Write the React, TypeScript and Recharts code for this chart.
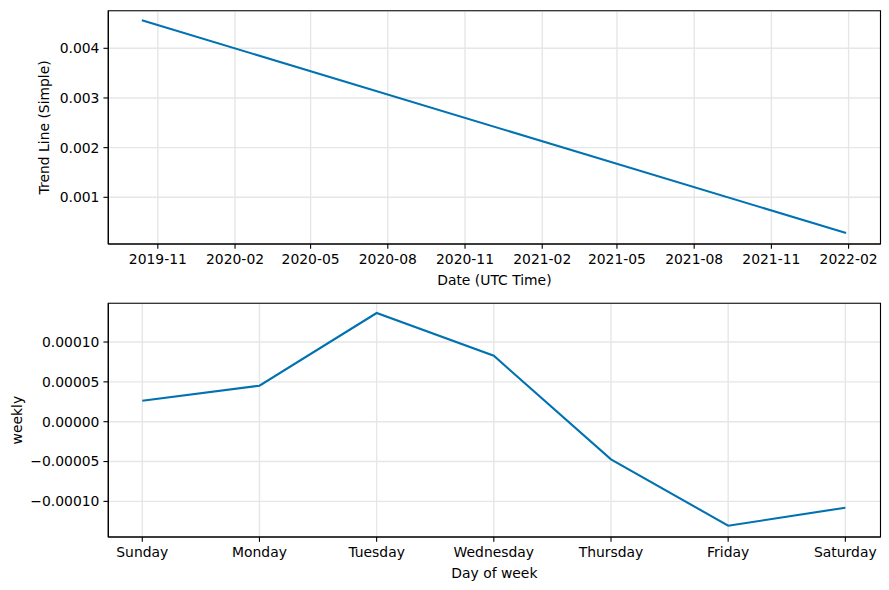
import React from 'react';
import { LineChart, Line, XAxis, YAxis, CartesianGrid, ReferenceArea, Label } from 'recharts';

const trendDates = ['2019-10-13', '2022-01-29'];
const trendValues = [0.004564, 0.000281];
const dateTicks = ['2019-11-01', '2020-02-01', '2020-05-01', '2020-08-01', '2020-11-01', '2021-02-01', '2021-05-01', '2021-08-01', '2021-11-01', '2022-02-01'];
const trendYTicks = [0.001, 0.002, 0.003, 0.004];

const days = ['Sunday', 'Monday', 'Tuesday', 'Wednesday', 'Thursday', 'Friday', 'Saturday'];
const weeklyValues = [0.0000263, 0.0000452, 0.0001364, 0.0000828, -0.0000472, -0.0001305, -0.0001079];
const weeklyYTicks = [-0.0001, -0.00005, 0, 0.00005, 0.0001];

const ts = (s: string) => Date.parse(s + 'T00:00:00Z');

const trendData = trendDates.map((d, i) => ({ t: ts(d), v: trendValues[i] }));
const weeklyData = days.map((d, i) => ({ i, v: weeklyValues[i] }));

const xDomainTop: [number, number] = [ts('2019-09-03'), ts('2022-03-11')];
const yDomainTop: [number, number] = [0.00006, 0.004757];
const xDomainBot: [number, number] = [-0.29, 6.3];
const yDomainBot: [number, number] = [-0.0001447, 0.0001486];

const FONT = 'DejaVu Sans';
const FS = 13.9;
const tickStyle = { fill: '#000', fontSize: FS, fontFamily: FONT };
const lineStyle = { stroke: '#000', strokeWidth: 1.1 };
const COLOR = '#0072B2';

const fmtDate = (t: number) => {
  const d = new Date(t);
  const m = d.getUTCMonth() + 1;
  return `${d.getUTCFullYear()}-${m < 10 ? '0' + m : m}`;
};
const fmtNum = (digits: number) => (v: number) => {
  const s = Math.abs(v).toFixed(digits);
  return v < -1e-12 ? '\u2212' + s : s;
};

const xLabel = (text: string) => (props: any) => {
  const vb = props.viewBox || {};
  return (
    <text x={vb.x + vb.width / 2} y={vb.y + 40.5} textAnchor="middle" fill="#000" fontSize={FS} fontFamily={FONT}>
      {text}
    </text>
  );
};
const yLabel = (text: string, bx: number) => (props: any) => {
  const vb = props.viewBox || {};
  const cy = vb.y + vb.height / 2;
  return (
    <text x={bx} y={cy} textAnchor="middle" fill="#000" fontSize={FS} fontFamily={FONT} transform={`rotate(-90, ${bx}, ${cy})`}>
      {text}
    </text>
  );
};

export default function App() {
  return (
    <div style={{ position: 'absolute', left: 0, top: 0, width: 889, height: 590, background: '#fff' }}>
      <LineChart width={889} height={290} data={trendData} margin={{ top: 10.7, right: 8.5, left: 0, bottom: 0 }}>
        <CartesianGrid stroke="#e6e6e6" strokeWidth={1.39} />
        <XAxis
          dataKey="t"
          type="number"
          domain={xDomainTop}
          allowDataOverflow
          ticks={dateTicks.map(ts)}
          tickFormatter={fmtDate}
          height={46}
          tick={tickStyle}
          tickSize={4.86}
          tickMargin={5.5}
          tickLine={lineStyle}
          axisLine={lineStyle}
          interval={0}
        >
          <Label content={xLabel('Date (UTC Time)')} />
        </XAxis>
        <YAxis
          type="number"
          domain={yDomainTop}
          allowDataOverflow
          ticks={trendYTicks}
          tickFormatter={fmtNum(3)}
          width={108.3}
          tick={tickStyle}
          tickSize={4.86}
          tickMargin={4}
          tickLine={lineStyle}
          axisLine={lineStyle}
          interval={0}
        >
          <Label content={yLabel('Trend Line (Simple)', 49.5)} />
        </YAxis>
        <ReferenceArea x1={xDomainTop[0]} x2={xDomainTop[1]} y1={yDomainTop[0]} y2={yDomainTop[1]} fill="none" stroke="#000" strokeWidth={1.1} fillOpacity={0} />
        <Line dataKey="v" type="linear" stroke={COLOR} strokeWidth={2.08} dot={false} isAnimationActive={false} />
      </LineChart>
      <LineChart width={889} height={300} data={weeklyData} margin={{ top: 13.3, right: 8.5, left: 0, bottom: 0 }}>
        <CartesianGrid stroke="#e6e6e6" strokeWidth={1.39} />
        <XAxis
          dataKey="i"
          type="number"
          domain={xDomainBot}
          allowDataOverflow
          ticks={days.map((_, i) => i)}
          tickFormatter={(i: number) => days[i] ?? ''}
          height={53}
          tick={tickStyle}
          tickSize={4.86}
          tickMargin={5.5}
          tickLine={lineStyle}
          axisLine={lineStyle}
          interval={0}
        >
          <Label content={xLabel('Day of week')} />
        </XAxis>
        <YAxis
          type="number"
          domain={yDomainBot}
          allowDataOverflow
          ticks={weeklyYTicks}
          tickFormatter={fmtNum(5)}
          width={108.3}
          tick={tickStyle}
          tickSize={4.86}
          tickMargin={4}
          tickLine={lineStyle}
          axisLine={lineStyle}
          interval={0}
        >
          <Label content={yLabel('weekly', 22.5)} />
        </YAxis>
        <ReferenceArea x1={xDomainBot[0]} x2={xDomainBot[1]} y1={yDomainBot[0]} y2={yDomainBot[1]} fill="none" stroke="#000" strokeWidth={1.1} fillOpacity={0} />
        <Line dataKey="v" type="linear" stroke={COLOR} strokeWidth={2.08} dot={false} isAnimationActive={false} />
      </LineChart>
    </div>
  );
}
